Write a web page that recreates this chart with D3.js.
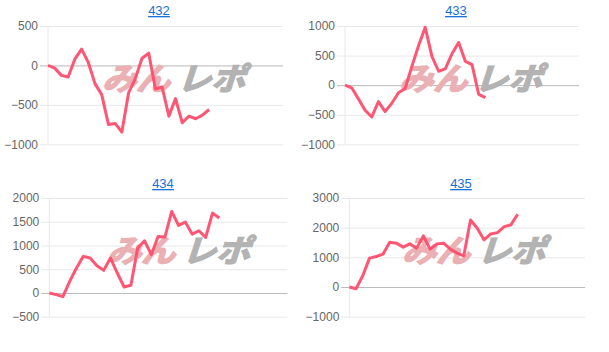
<!DOCTYPE html>
<html>
<head>
<meta charset="utf-8">
<script src="https://cdn.jsdelivr.net/npm/d3@7"></script>
<style>
  html, body { margin: 0; padding: 0; background: #fff; }
  svg { display: block; font-family: "Liberation Sans", Arial, sans-serif; }
</style>
</head>
<body>
<svg id="chart" width="609" height="352"></svg>
<script>
// ---- data ----
const titles = ["432", "433", "434", "435"];
const series432 = [0, -34, -126, -147, 80, 206, 38, -231, -370, -748, -735, -845, -349, -168, 92, 155, -298, -273, -643, -420, -727, -643, -676, -630, -559];
const series433 = [0, -45, -229, -425, -536, -279, -447, -307, -128, -56, 318, 665, 978, 486, 235, 274, 531, 721, 402, 346, -156, -212];
const series434 = [0, -35, -77, 245, 526, 771, 736, 575, 477, 736, 420, 126, 161, 946, 1100, 806, 1191, 1177, 1717, 1423, 1493, 1240, 1310, 1170, 1682, 1577];
const series435 = [0, -57, 380, 974, 1028, 1108, 1511, 1478, 1344, 1454, 1310, 1723, 1276, 1454, 1478, 1276, 1142, 1051, 2260, 1982, 1589, 1790, 1834, 2035, 2093, 2452];
const ticks432 = [500, 0, -500, -1000];
const ticks433 = [1000, 500, 0, -500, -1000];
const ticks434 = [2000, 1500, 1000, 500, 0, -500];
const ticks435 = [3000, 2000, 1000, 0, -1000];
const slotCount = 36; // category slots on the x axis

// ---- layout ----
const panels = [
  { title: titles[0], data: series432, ticks: ticks432, x0: 48, x1: 283, y0: 26, y1: 144.3, tx: 159, ty: 15, wm: [103, 78] },
  { title: titles[1], data: series433, ticks: ticks433, x0: 345, x1: 579, y0: 26, y1: 144.3, tx: 456, ty: 15, wm: [400, 78] },
  { title: titles[2], data: series434, ticks: ticks434, x0: 49.3, x1: 287.3, y0: 198, y1: 316.7, tx: 163, ty: 188, wm: [108, 250] },
  { title: titles[3], data: series435, ticks: ticks435, x0: 349.3, x1: 585, y0: 198, y1: 316.7, tx: 461, ty: 188, wm: [403, 250] }
];

const svg = d3.select("#chart");

panels.forEach(p => {
  const g = svg.append("g");
  const x = d3.scaleLinear().domain([0, slotCount - 1]).range([p.x0, p.x1]);
  const y = d3.scaleLinear().domain([d3.min(p.ticks), d3.max(p.ticks)]).range([p.y1, p.y0]);

  // title link
  g.append("text")
    .attr("x", p.tx).attr("y", p.ty)
    .attr("text-anchor", "middle")
    .attr("font-size", 13)
    .attr("fill", "#1a6fd8")
    .attr("text-decoration", "underline")
    .text(p.title);

  // y axis with gridlines
  const axis = d3.axisLeft(y)
    .tickValues(p.ticks)
    .tickSize(-(p.x1 - p.x0))
    .tickPadding(10)
    .tickFormat(d3.format("d"));
  const ag = g.append("g").attr("transform", `translate(${p.x0},0)`).call(axis);
  ag.select(".domain").remove();
  ag.selectAll(".tick line")
    .attr("x1", -8)
    .attr("stroke", d => d === 0 ? "#b8b8b8" : "#e8e8e8")
    .attr("stroke-width", 1);
  ag.selectAll(".tick text")
    .attr("fill", "#666")
    .attr("font-size", 12)
    .attr("font-family", "Liberation Sans, Arial, sans-serif");

  // left axis line
  g.append("line")
    .attr("x1", p.x0).attr("x2", p.x0)
    .attr("y1", p.y0).attr("y2", p.y1)
    .attr("stroke", "#e8e8e8");

  // watermark
  const wm = g.append("g").attr("transform", `translate(${p.wm[0]},${p.wm[1]}) skewX(-18)`);
  wm.append("text")
    .attr("x", 3).attr("y", 12)
    .attr("font-size", 31).attr("font-weight", "bold")
    .attr("font-family", "Noto Sans CJK JP")
    .attr("fill", "#eab0b3").attr("stroke", "#eab0b3").attr("stroke-width", 1.6)
    .attr("textLength", 68).attr("lengthAdjust", "spacingAndGlyphs")
    .text("みん");
  wm.append("text")
    .attr("x", 78).attr("y", 12)
    .attr("font-size", 31).attr("font-weight", "bold")
    .attr("font-family", "Noto Sans CJK JP")
    .attr("fill", "#b3b3b3").attr("stroke", "#b3b3b3").attr("stroke-width", 1.6)
    .attr("textLength", 68).attr("lengthAdjust", "spacingAndGlyphs")
    .text("レポ");

  // series line
  const line = d3.line().x((d, i) => x(i)).y(d => y(d));
  g.append("path")
    .datum(p.data)
    .attr("fill", "none")
    .attr("stroke", "#ff4d6d")
    .attr("stroke-width", 3)
    .attr("stroke-linejoin", "round")
    .attr("stroke-opacity", 0.95)
    .attr("d", line);
});
</script>
</body>
</html>
